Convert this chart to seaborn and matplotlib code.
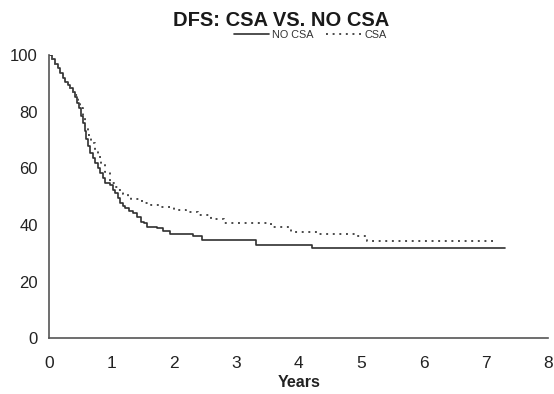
import matplotlib
matplotlib.use("Agg")
import matplotlib.pyplot as plt
from matplotlib.lines import Line2D
import seaborn as sns
import pandas as pd

# Kaplan-Meier style step data
no_csa_years = [0, 0.05, 0.1, 0.14, 0.18, 0.22, 0.26, 0.3, 0.34, 0.38, 0.42, 0.45,
                0.48, 0.51, 0.54, 0.57, 0.6, 0.63, 0.66, 0.7, 0.74, 0.78, 0.82, 0.86,
                0.9, 0.98, 1.02, 1.06, 1.1, 1.14, 1.18, 1.22, 1.28, 1.35, 1.41, 1.47,
                1.52, 1.57, 1.73, 1.83, 1.94, 2.31, 2.45, 3.31, 4.22, 7.3]
no_csa_dfs = [100, 98.5, 97, 95.5, 93.5, 92, 90.6, 89.4, 88.2, 86.8, 85.3, 83,
              81.2, 78.5, 76, 73, 70.5, 68, 65.3, 63.5, 61.8, 60, 58.2, 56.5,
              54.7, 54.1, 52.5, 51.2, 49.5, 47.6, 46.7, 45.9, 45, 44.1, 42.9, 41.2,
              40.6, 39.4, 38.8, 38, 36.8, 36.2, 34.7, 32.9, 31.8, 31.8]

csa_years = [0, 0.05, 0.1, 0.14, 0.18, 0.22, 0.26, 0.3, 0.34, 0.38, 0.42, 0.46, 0.5,
             0.54, 0.58, 0.63, 0.68, 0.73, 0.79, 0.84, 0.9, 0.98, 1.04, 1.11, 1.19,
             1.27, 1.31, 1.49, 1.63, 1.8, 2.0, 2.2, 2.38, 2.6, 2.81, 3.56, 3.88,
             4.3, 4.9, 5.09, 7.12]
csa_dfs = [100, 98.5, 97, 95.5, 93.5, 92, 90.6, 89.4, 88.2, 86.8, 85.9, 83.5, 81.2,
           78, 74.7, 71.8, 68.8, 66.5, 64.1, 61.5, 58.8, 54.7, 53.5, 52.3, 51,
           50, 49, 47.6, 47, 46.2, 45.3, 44.5, 43.5, 42, 40.6, 39.2, 37.6,
           36.8, 36.2, 34.5, 34.5]

x_ticks = [0, 1, 2, 3, 4, 5, 6, 7, 8]
y_ticks = [0, 20, 40, 60, 80, 100]
title = "DFS: CSA VS. NO CSA"
series_names = ["NO CSA", "CSA"]

sns.set_style("white")
plt.rcParams["font.family"] = ["Liberation Sans", "DejaVu Sans"]

fig = plt.figure(figsize=(5.54, 3.94), dpi=100)
ax = fig.add_axes([0.0884, 0.1414, 0.9016, 0.719])

df_no = pd.DataFrame({"t": no_csa_years, "s": no_csa_dfs})
df_csa = pd.DataFrame({"t": csa_years, "s": csa_dfs})

solid_color = "#303030"
dot_color = "#4a4a4a"

sns.lineplot(data=df_no, x="t", y="s", ax=ax, color=solid_color, linewidth=1.2,
             drawstyle="steps-post", estimator=None, sort=False)
sns.lineplot(data=df_csa, x="t", y="s", ax=ax, color=dot_color, linewidth=1.4,
             drawstyle="steps-post", estimator=None, sort=False,
             linestyle=(0, (1, 2.4)))

ax.set_xlim(0, 8)
ax.set_ylim(0, 100)
ax.set_xticks(x_ticks)
ax.set_yticks(y_ticks)
ax.set_xticklabels([str(v) for v in x_ticks], fontsize=12.5, color="#222222")
ax.set_yticklabels([str(v) for v in y_ticks], fontsize=12, color="#222222")

spine_color = "#555555"
for side in ["top", "right"]:
    ax.spines[side].set_visible(False)
for side in ["left", "bottom"]:
    ax.spines[side].set_color(spine_color)
    ax.spines[side].set_linewidth(1.2)

ax.tick_params(axis="x", direction="in", length=3.5, width=0.9, color=spine_color, pad=13)
ax.tick_params(axis="y", direction="in", length=3.5, width=0.9, color=spine_color, pad=8)

ax.set_ylabel("")
ax.set_xlabel("Years", fontsize=11.5, fontweight="bold", color="#222222")
ax.xaxis.label.set_va("center")
ax.xaxis.set_label_coords(0.5, -0.155)

fig.text(0.507, 0.947, title, ha="center", va="center", fontsize=14.5,
         fontweight="bold", color="#1a1a1a")

handles = [Line2D([], [], color=solid_color, linewidth=1.2),
           Line2D([], [], color=dot_color, linewidth=1.4, linestyle=(0, (1, 2.4)))]
leg = fig.legend(handles, series_names, loc="center", bbox_to_anchor=(0.56, 0.912),
                 ncol=2, frameon=False, fontsize=7.8, handlelength=3.2,
                 handletextpad=0.3, columnspacing=1.2, borderpad=0)
for t in leg.get_texts():
    t.set_color("#333333")

fig.savefig("out.png", dpi=100)
